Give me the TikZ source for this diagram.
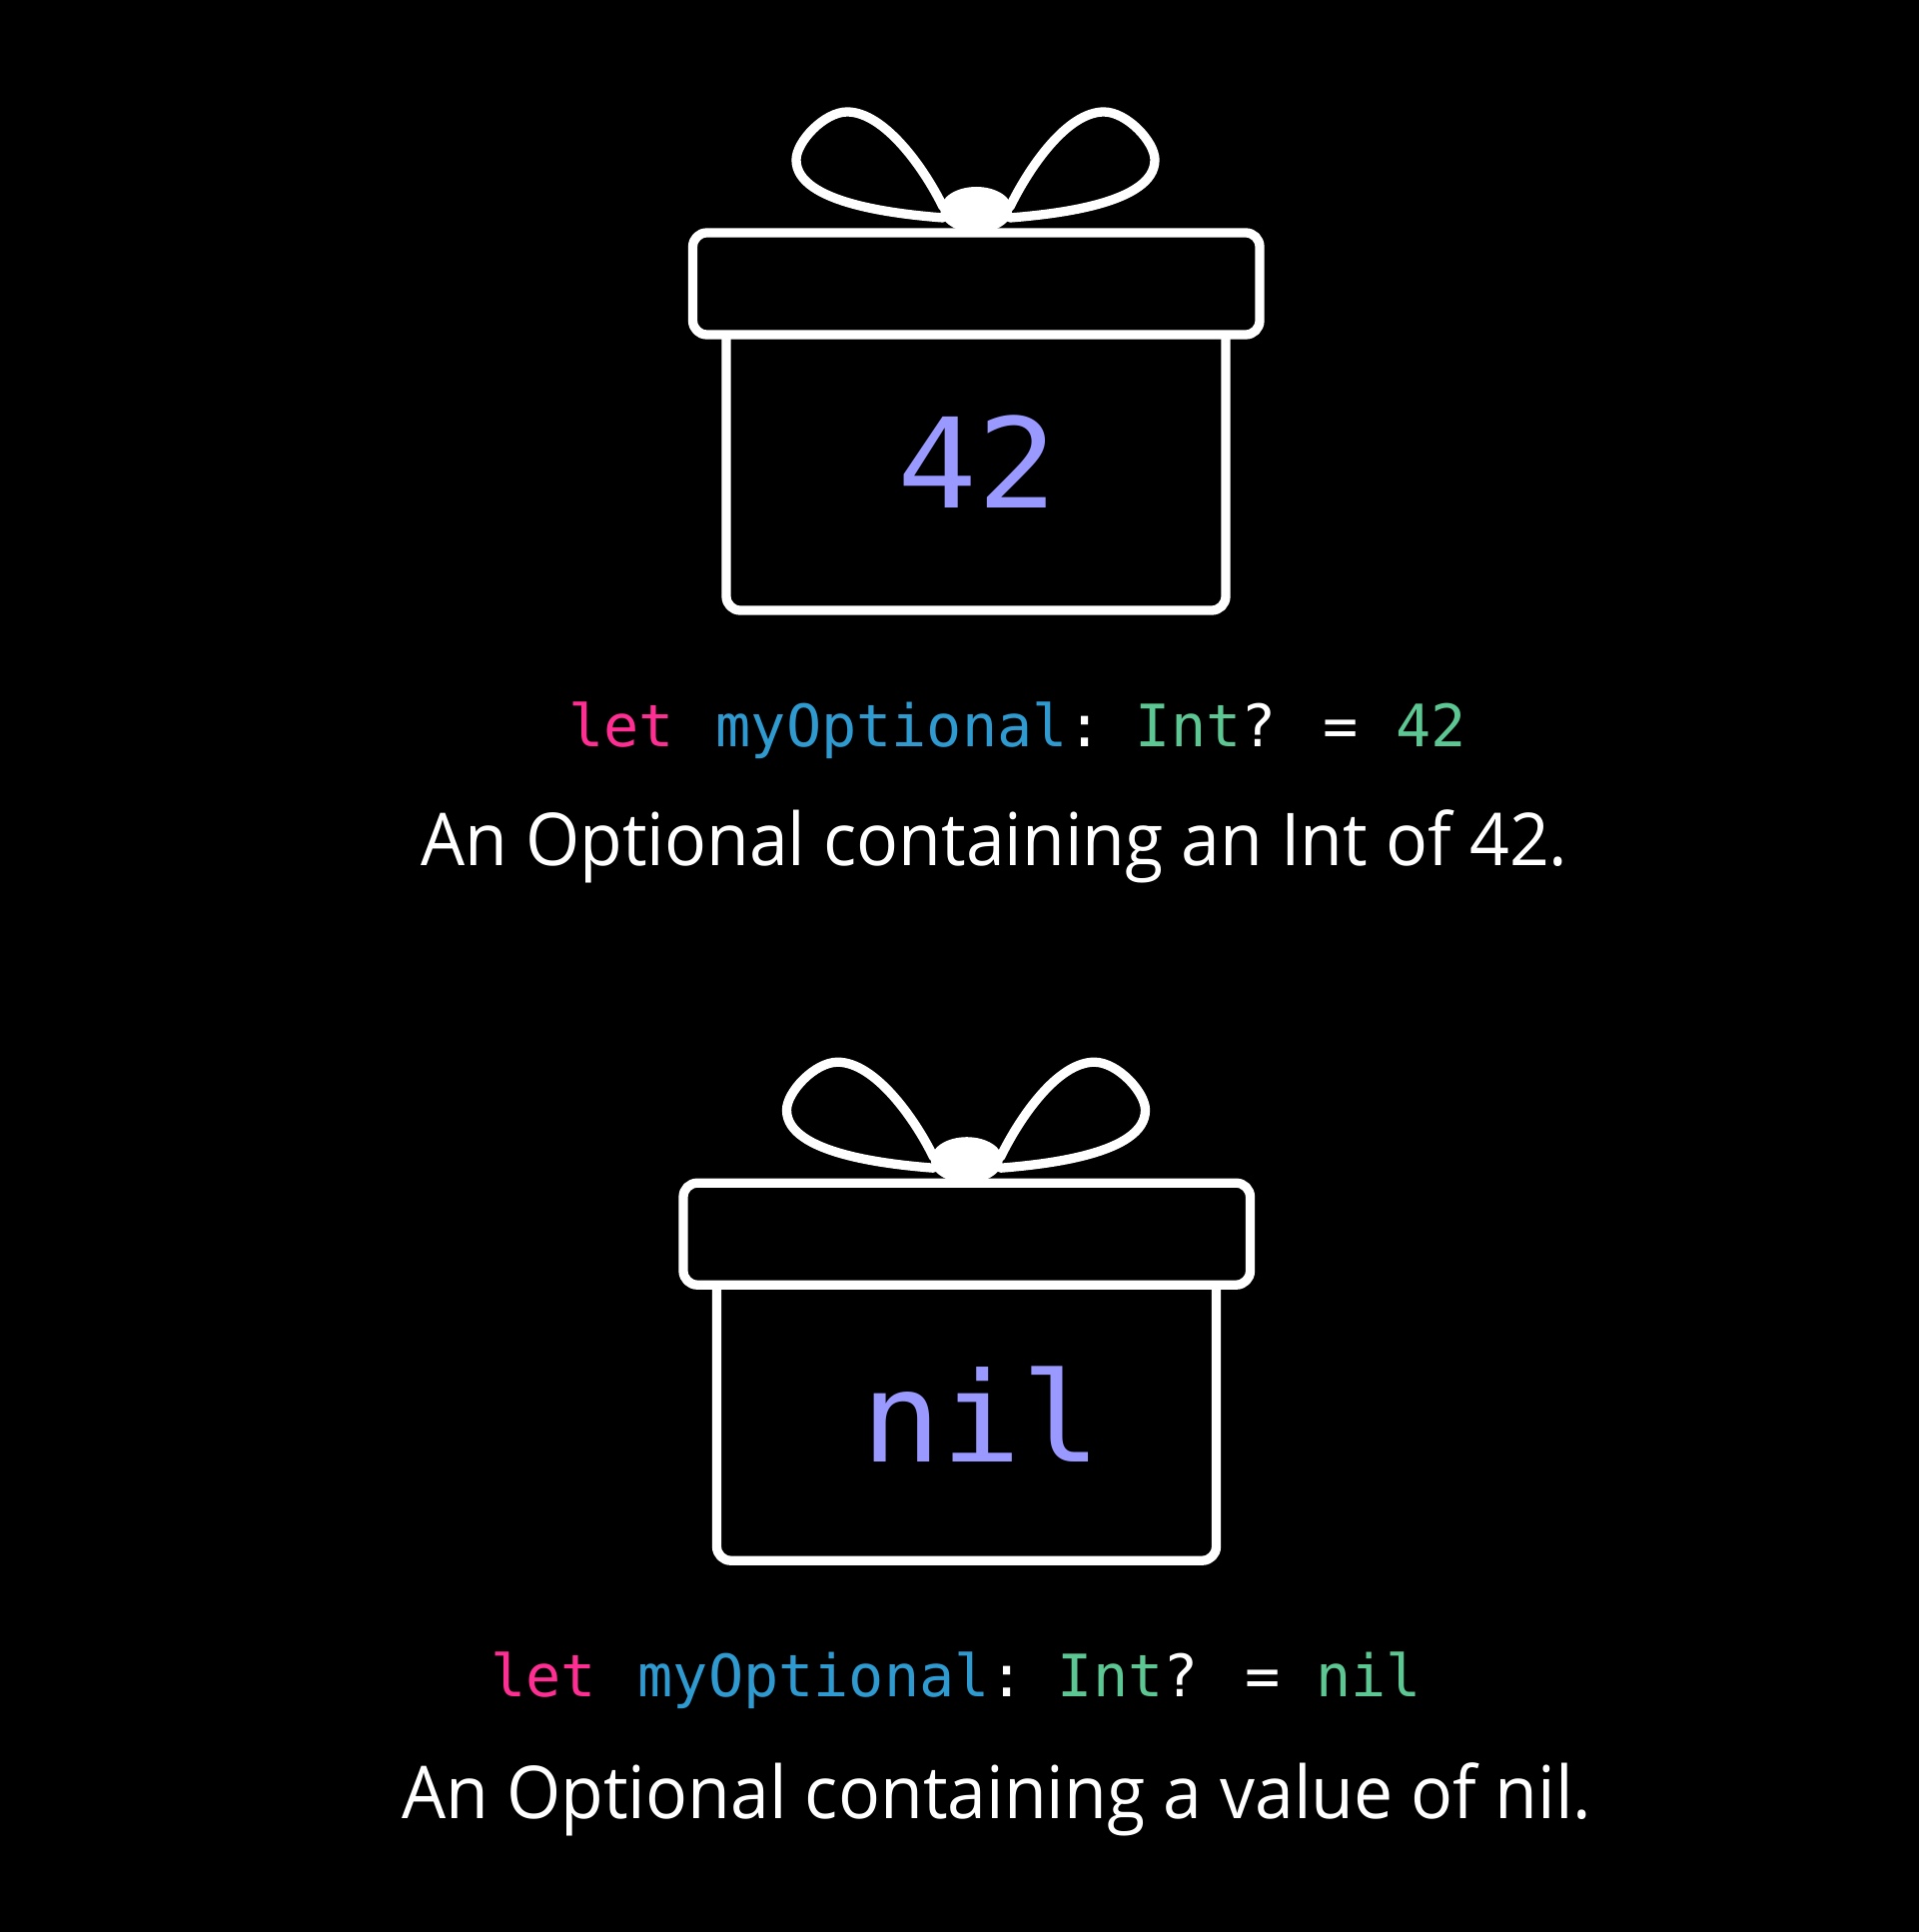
\documentclass[tikz,border=0pt]{standalone}
\usepackage{graphicx}
\usepackage{fontspec}
\setmainfont{Open Sans}
\newfontfamily\codefont{DejaVu Sans Mono}
\newfontfamily\bigcodefont[FakeStretch=1.0625]{DejaVu Sans Mono}
\definecolor{kwpink}{HTML}{FF2E93}
\definecolor{idblue}{HTML}{2E9AD0}
\definecolor{tygreen}{HTML}{5CC792}
\definecolor{valpurple}{HTML}{9999FF}
\tikzset{
  giftline/.style={draw=white,line width=9.3pt,line join=round,line cap=round},
  codetext/.style={anchor=base west,inner sep=0pt,font=\codefont\fontsize{58.5}{60}\selectfont,text=white},
  captiontext/.style={anchor=base west,inner sep=0pt,font=\fontsize{73}{73}\selectfont,text=white},
  boxvalue/.style={anchor=base west,inner sep=0pt,font=\bigcodefont\fontsize{125}{125}\selectfont,text=valpurple},
  gift/.pic={
    \draw[giftline] (944,218) .. controls (900,214.5) and (797,204) .. (797,160)
      .. controls (797,142) and (825,112) .. (848,112)
      .. controls (885,112) and (925,168) .. (944,207);
    \draw[giftline] (1011,218) .. controls (1055,214.5) and (1156,204) .. (1156,160)
      .. controls (1156,142) and (1128,112) .. (1105,112)
      .. controls (1068,112) and (1030,168) .. (1011,207);
    \fill[white] (977.3,210) ellipse [x radius=36,y radius=23];
    \draw[giftline,fill=black,rounded corners=14pt] (727,335) -- (727,611) -- (1227,611) -- (1227,335);
    \draw[giftline,fill=black,rounded corners=14pt] (693.5,233) rectangle (1261,335);
  }
}
\begin{document}
\begin{tikzpicture}[x=1pt,y=-1pt]
\useasboundingbox (0,0) rectangle (1920,1934);
\fill[black,overlay] (-5,-5) rectangle (1925,1939);
\pic at (0,0) {gift};
\pic at (-9.5,951.2) {gift};
\node[boxvalue] (v1) at (898,508) {42};
\node[boxvalue] (v2) at (862,1463) {nil};
\node[codetext] (c1) at (569,747) {\textcolor{kwpink}{let} \kern6.5pt\textcolor{idblue}{myOptional}: \kern-14pt\textcolor{tygreen}{Int}? = \kern2.5pt\textcolor{tygreen}{42}};
\node[codetext] (c2) at (491,1698) {\textcolor{kwpink}{let} \kern6.5pt\textcolor{idblue}{myOptional}: \kern-14pt\textcolor{tygreen}{Int}? = \textcolor{tygreen}{nil}};
\node[captiontext] (t1) at (421,866) {\resizebox{1148pt}{\height}{An Optional containing an Int of 42.}};
\node[captiontext] (t2) at (402,1820) {\resizebox{1191pt}{\height}{An Optional containing a value of nil.}};
\end{tikzpicture}
\end{document}
